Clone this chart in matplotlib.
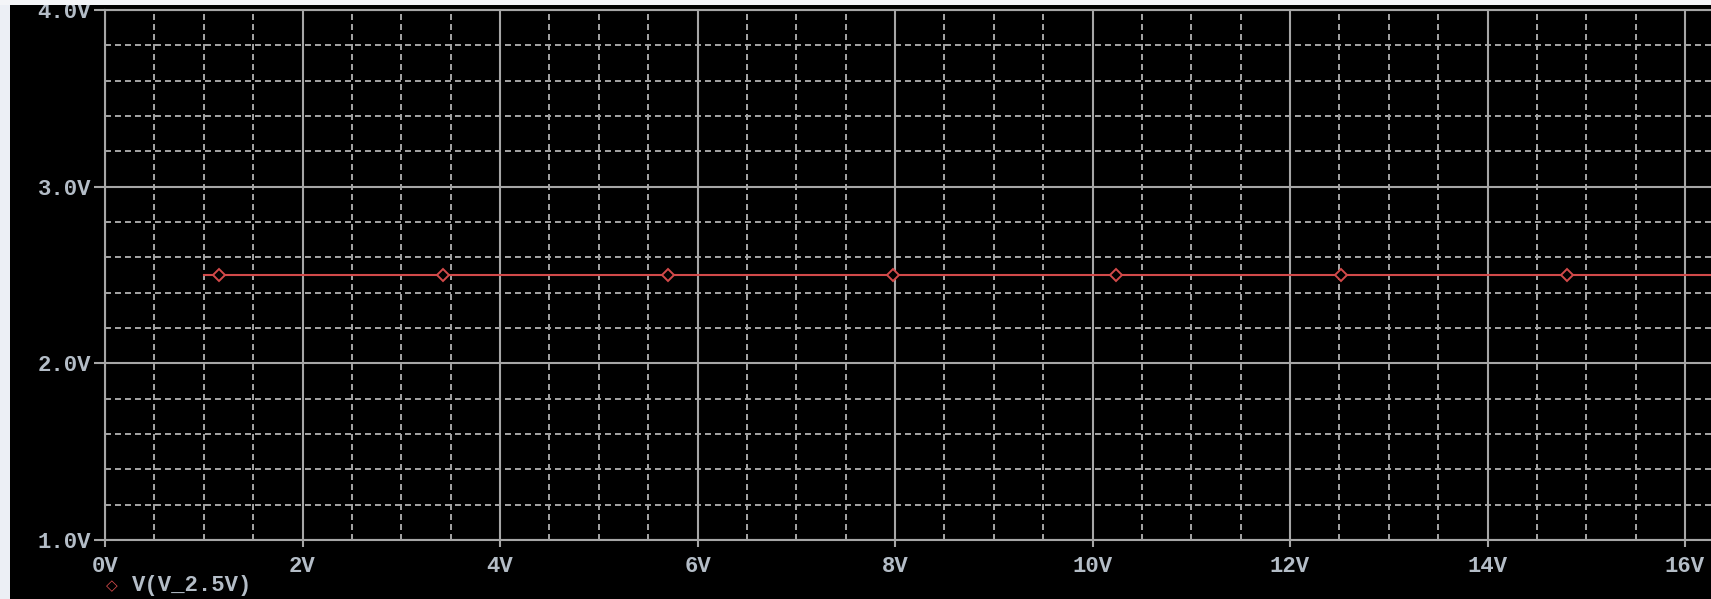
import numpy as np
import matplotlib
matplotlib.use("Agg")
import matplotlib.pyplot as plt
from matplotlib.patches import Rectangle
from matplotlib.ticker import MultipleLocator

# ---- data -------------------------------------------------------------------
line_x = [1.0, 16.4]                    # sweep start .. past right edge (V)
line_v = [2.5, 2.5]                     # V(V_2.5V)
marker_x = [1.15, 3.42, 5.70, 7.98, 10.24, 12.52, 14.80]
marker_v = [2.5, 2.5, 2.5, 2.5, 2.5, 2.5, 2.5]

x_ticks = [0, 2, 4, 6, 8, 10, 12, 14, 16]
x_labels = ["0V", "2V", "4V", "6V", "8V", "10V", "12V", "14V", "16V"]
y_ticks = [1.0, 2.0, 3.0, 4.0]
y_labels = ["1.0V", "2.0V", "3.0V", "4.0V"]
trace_name = "V(V_2.5V)"

# ---- look ------------------------------------------------------------------
BG = "#000000"
GRID = "#a6a6a6"
TXT = "#b4bdc7"
RED = "#d24a4a"
plt.rcParams["font.family"] = ["Liberation Mono", "DejaVu Sans Mono"]
plt.rcParams["lines.scale_dashes"] = False

W, H = 1711, 599
fig = plt.figure(figsize=(W / 100, H / 100), dpi=100, facecolor=BG)
x0, y0_top, y0_bot = 105, 10, 540       # pixel frame of the plot area
ax = fig.add_axes([x0 / W, (H - y0_bot) / H, 1 - x0 / W, (y0_bot - y0_top) / H])
ax.set_facecolor(BG)

ax.set_xlim(0, (W - x0) / 98.75)
ax.set_ylim(1.0, 4.0)

# grid: solid majors, dashed minors
ax.xaxis.set_minor_locator(MultipleLocator(0.5))
ax.yaxis.set_minor_locator(MultipleLocator(0.2))
ax.grid(which="minor", color=GRID, lw=1.4, linestyle=(0, (4.3, 2.9)))
ax.grid(which="major", color=GRID, lw=1.5, linestyle="-")
ax.set_axisbelow(True)

ax.set_xticks(x_ticks)
ax.set_xticklabels(x_labels)
ax.set_yticks(y_ticks)
ax.set_yticklabels(y_labels)
ax.tick_params(which="major", axis="x", length=5, width=1.5, color=GRID,
               pad=6.5, labelsize=16, labelcolor=TXT)
ax.tick_params(which="major", axis="y", length=8, width=1.5, color=GRID,
               pad=2, labelsize=16, labelcolor=TXT)
ax.tick_params(which="minor", length=0)
for lab in ax.get_xticklabels() + ax.get_yticklabels():
    lab.set_fontweight("bold")

for side in ("left", "bottom", "top"):
    ax.spines[side].set_color(GRID)
    ax.spines[side].set_linewidth(1.5)
ax.spines["right"].set_visible(False)

# trace
ax.plot(line_x, line_v, color=RED, lw=1.5, zorder=3, clip_on=True)
ax.plot(marker_x, marker_v, linestyle="none", marker="D", ms=6.5,
        mfc=BG, mec=RED, mew=1.4, zorder=4)

# legend below the axis
fig.text(112 / W, 1 - 586 / H, "\u25c7", color=RED, fontsize=11,
         ha="center", va="center", family=["DejaVu Sans"])
fig.text(132 / W, 1 - 586 / H, trace_name, color=TXT, fontsize=16,
         fontweight="bold", ha="left", va="center")

# light window border left and top
fig.add_artist(Rectangle((0, 0), 10 / W, 1, transform=fig.transFigure,
                         facecolor="#eceff5", edgecolor="none", zorder=20))
fig.add_artist(Rectangle((0, 1 - 5 / H), 1, 5 / H, transform=fig.transFigure,
                         facecolor="#f4f5f8", edgecolor="none", zorder=20))

fig.savefig("out.png", dpi=100, facecolor=BG)
